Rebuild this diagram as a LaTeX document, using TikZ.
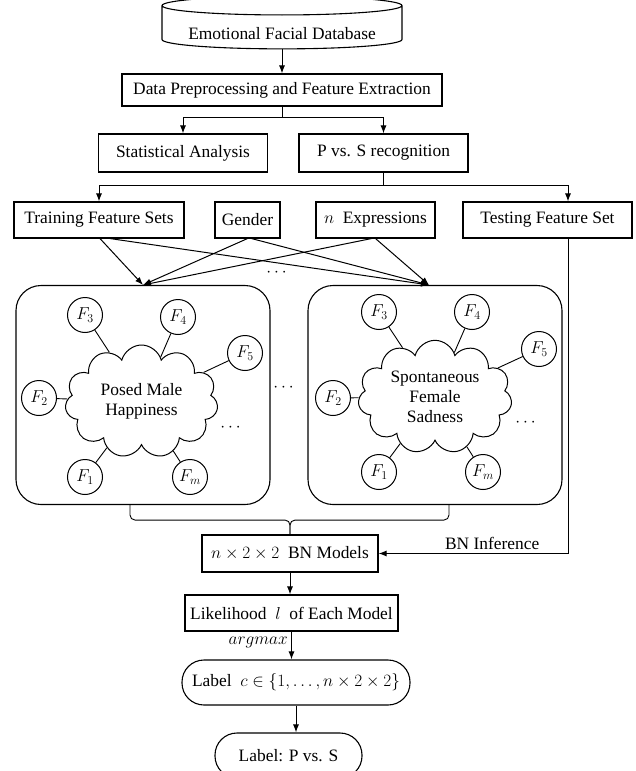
\documentclass[tikz,border=0pt]{standalone}
\usepackage{fontspec}
\setmainfont{Liberation Serif}
\usepackage{amsmath}
\usetikzlibrary{positioning,arrows.meta,calc,shapes}

\begin{document}
\begin{tikzpicture}[x=1pt, y=-1pt,
    every node/.style={font=\fontsize{17.4}{20}\selectfont, align=center},
    box/.style={draw, line width=1.1pt, inner sep=0pt},
    model/.style={draw, line width=1.1pt, rounded corners=25pt, minimum width=254pt, minimum height=219pt},
    feat/.style={draw, circle, line width=1pt, minimum size=35pt, inner sep=0pt},
    blob/.style={draw, cloud, cloud puffs=11, aspect=1.4, line width=1pt, inner sep=0pt},
    term/.style={draw, line width=1.1pt, rounded corners=22pt, minimum height=45pt, inner sep=0pt},
    arrow/.style={-{Latex[length=8pt,width=6pt]}, line width=1pt},
    link/.style={line width=0.9pt}
]
\useasboundingbox (0,0) rectangle (636,771);

% Top of the pipeline
\node[draw, cylinder, shape border rotate=90, aspect=0.1, line width=1.1pt, inner sep=0pt, minimum width=240pt, minimum height=45pt, text height=24pt, text depth=0pt] (db) at (282,27.5) {Emotional Facial Database};
\node[box, minimum width=320pt, minimum height=32pt] (prep) at (282,90) {Data Preprocessing and Feature Extraction};
\node[box, minimum width=169pt, minimum height=38pt] (stat) at (183,153) {Statistical Analysis};
\node[box, minimum width=169pt, minimum height=38pt] (pvs) at (383.5,153) {P vs. S recognition};

\draw[arrow] (db.south) -- (prep.north);
\coordinate (split1) at ($(prep.south)+(0,11)$);
\draw[link] (prep.south) -- (split1);
\draw[arrow] (split1) -| (stat.north);
\draw[arrow] (split1) -| (pvs.north);

% Feature sets
\node[box, minimum width=170pt, minimum height=36pt] (train) at (99,220) {Training Feature Sets};
\node[box, minimum width=65pt, minimum height=36pt] (gender) at (247.5,220) {Gender};
\node[box, minimum width=119pt, minimum height=36pt] (expr) at (375.5,220) {$n$\ \ Expressions};
\node[box, minimum width=169pt, minimum height=36pt] (test) at (547.5,220) {Testing Feature Set};

\coordinate (tx) at (568,0);
\coordinate (split2) at ($(pvs.south)+(0,13)$);
\draw[link] (pvs.south) -- (split2);
\draw[arrow] (split2) -| (train.north);
\draw[arrow] (split2) -| (tx |- test.north);

% BN models
\node[model] (mL) at (143,395) {};
\node[model] (mR) at (435,395) {};

\draw[arrow] ([xshift=1pt]train.south) -- (mL.north);
\draw[arrow] ([xshift=11pt]train.south) -- ([xshift=-6pt]mR.north);
\draw[arrow] (gender.south) -- (mL.north);
\draw[arrow] ([xshift=4pt]gender.south) -- ([xshift=-6pt]mR.north);
\draw[arrow] ([xshift=-4pt]expr.south) -- (mL.north);
\draw[arrow] (expr.south) -- ([xshift=-6pt]mR.north);

\node[blob, minimum width=153pt, minimum height=113pt] (cL) at (141.5,401.5) {Posed Male\\Happiness};
\node[feat] (fL3) at (85,315) {$F_3$};
\node[feat] (fL4) at (178,317) {$F_4$};
\node[feat] (fL5) at (245,353) {$F_5$};
\node[feat] (fL2) at (39,398) {$F_2$};
\node[feat] (fL1) at (85,477) {$F_1$};
\node[feat] (fLm) at (190,477) {$F_m$};

\node[blob, minimum width=154pt, minimum height=110pt] (cR) at (435,397) {Spontaneous\\Female\\Sadness};
\node[feat] (fR3) at (379,312) {$F_3$};
\node[feat] (fR4) at (472,312) {$F_4$};
\node[feat] (fR5) at (539,349) {$F_5$};
\node[feat] (fR2) at (333,398) {$F_2$};
\node[feat] (fR1) at (379,472) {$F_1$};
\node[feat] (fRm) at (483,472) {$F_m$};

\foreach \i in {1,2,3,4,5,m} {
    \draw[link] (fL\i) -- (cL);
    \draw[link] (fR\i) -- (cR);
}

\node (dtop) at (278,273) {$\cdots$};
\node (dmid) at (285,388) {$\cdots$};
\node (dL) at (232,428) {$\cdots$};
\node (dR) at (527,423) {$\cdots$};

% Merge and inference
\node[box, minimum width=176pt, minimum height=37pt] (bn) at (290,553.5) {$n\times2\times2$\ \ BN Models};
\coordinate (bl) at ([xshift=-13pt]mL.south);
\coordinate (br) at ([xshift=14pt]mR.south);
\draw[link, rounded corners=5pt] (bl) -- ++(0,15) -| (bn.north);
\draw[link, rounded corners=5pt] (br) -- ++(0,15) -| (bn.north);
\draw[arrow] (tx |- test.south) |- node[pos=0.7, above] {BN Inference} (bn.east);

\node[box, minimum width=213pt, minimum height=36pt] (lik) at (291.5,613) {Likelihood\ \ $l$\ \ of Each Model};
\draw[arrow] (bn.south) -- (bn.south |- lik.north);

\node[term, minimum width=228pt] (lblc) at (296,682.5) {Label\ \ $c\in\{1,\ldots,n\times2\times2\}$};
\draw[arrow] (lik.south) -- node[left, pos=0.4] {$argmax$} (lik.south |- lblc.north);

\node[term, minimum width=147pt] (lblp) at (288.5,755.5) {Label: P vs. S};
\draw[arrow] (lblc.south) -- (lblc.south |- lblp.north);

\end{tikzpicture}
\end{document}
